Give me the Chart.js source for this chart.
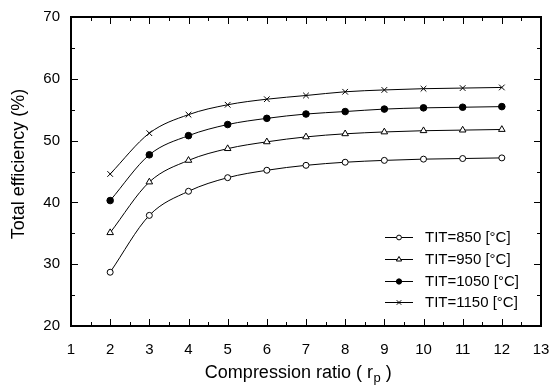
<!DOCTYPE html>
<html>
<head>
<meta charset="utf-8">
<script src="https://cdn.jsdelivr.net/npm/chart.js@4.4.1/dist/chart.umd.min.js"></script>
<style>
  html, body { margin: 0; padding: 0; background: #fff; }
  #wrap { width: 550px; height: 385px; position: relative; }
</style>
</head>
<body>
<div id="wrap"><canvas id="chart"></canvas></div>
<script>
const RATIOS = [2, 3, 4, 5, 6, 7, 8, 9, 10, 11, 12];
const TIT850  = [28.7, 37.9, 41.8, 44.0, 45.2, 46.0, 46.5, 46.8, 47.0, 47.1, 47.2];
const TIT950  = [35.1, 43.3, 46.8, 48.7, 49.8, 50.6, 51.1, 51.4, 51.6, 51.7, 51.8];
const TIT1050 = [40.3, 47.7, 50.8, 52.6, 53.6, 54.3, 54.7, 55.1, 55.3, 55.4, 55.5];
const TIT1150 = [44.6, 51.2, 54.2, 55.8, 56.7, 57.3, 57.9, 58.2, 58.4, 58.5, 58.6];
const LABELS = ["TIT=850 [°C]", "TIT=950 [°C]", "TIT=1050 [°C]", "TIT=1150 [°C]"];

const FONT = "'Liberation Sans', Arial, sans-serif";

function serie(label, values, style, fill, radius) {
  return {
    label,
    data: RATIOS.map((x, i) => ({ x, y: values[i] })),
    borderColor: "#000",
    borderWidth: 1,
    pointStyle: style,
    pointRadius: radius,
    pointBackgroundColor: fill,
    pointBorderColor: "#000",
    pointBorderWidth: 1,
    cubicInterpolationMode: "monotone",
    fill: false
  };
}

const datasets = [
  serie(LABELS[0], TIT850, "circle", "#fff", 3),
  serie(LABELS[1], TIT950, "triangle", "#fff", 3.8),
  serie(LABELS[2], TIT1050, "circle", "#000", 3.3),
  serie(LABELS[3], TIT1150, "crossRot", "#000", 4)
];

// frame drawn as a filled ring, ticks as small filled rects
const frame = {
  id: "frame",
  beforeDatasetsDraw(chart) {
    const ctx = chart.ctx;
    const x = chart.scales.x, y = chart.scales.y;
    const L = Math.round(x.left), R = Math.round(x.right);
    const T = Math.round(y.top), B = Math.round(y.bottom);
    ctx.save();
    ctx.fillStyle = "#000";
    ctx.beginPath();
    ctx.rect(L - 1, T - 1, R - L + 2, B - T + 2);
    ctx.rect(L + 1, T + 1, R - L - 2, B - T - 2);
    ctx.fill("evenodd");
    for (let k = 0; k <= 24; k++) {
      const px = Math.round(x.getPixelForValue(1 + k * 0.5));
      const len = k % 2 === 0 ? 7 : 4;
      ctx.fillRect(px, B - len, 1, len);
      ctx.fillRect(px, T, 1, len);
    }
    for (let k = 0; k <= 10; k++) {
      const py = Math.round(y.getPixelForValue(20 + k * 5));
      const len = k % 2 === 0 ? 7 : 4;
      ctx.fillRect(L, py, len, 1);
      ctx.fillRect(R - len, py, len, 1);
    }
    ctx.restore();
  }
};

const decor = {
  id: "decor",
  afterDraw(chart) {
    const ctx = chart.ctx;
    ctx.save();
    ctx.fillStyle = "#000";

    // y title
    ctx.font = "18px " + FONT;
    ctx.textAlign = "center";
    ctx.textBaseline = "middle";
    ctx.save();
    ctx.translate(19, 164);
    ctx.rotate(-Math.PI / 2);
    ctx.fillText("Total efficiency (%)", 0, 0);
    ctx.restore();

    // x title with subscript
    ctx.textAlign = "left";
    ctx.textBaseline = "alphabetic";
    const p1 = "Compression ratio ( r", sub = "p", p2 = " )";
    ctx.font = "18px " + FONT;
    const w1 = ctx.measureText(p1).width, w3 = ctx.measureText(p2).width;
    ctx.font = "13px " + FONT;
    const w2 = ctx.measureText(sub).width;
    const tx = 298 - (w1 + w2 + w3) / 2;
    const base = 378;
    ctx.font = "18px " + FONT;
    ctx.fillText(p1, tx, base);
    ctx.font = "13px " + FONT;
    ctx.fillText(sub, tx + w1 + 0.5, base + 4);
    ctx.font = "18px " + FONT;
    ctx.fillText(p2, tx + w1 + w2 + 0.5, base);

    // legend inside plot
    const rows = [237, 259, 281, 302];
    ctx.font = "15px " + FONT;
    ctx.textBaseline = "middle";
    chart.data.datasets.forEach((ds, i) => {
      const ly = rows[i] + 0.5;
      ctx.lineWidth = 1;
      ctx.strokeStyle = "#000";
      ctx.beginPath();
      ctx.moveTo(385, ly); ctx.lineTo(413, ly);
      ctx.stroke();
      ctx.fillStyle = ds.pointBackgroundColor;
      Chart.helpers.drawPoint(ctx, {
        pointStyle: ds.pointStyle,
        radius: ds.pointRadius * 0.8,
        rotation: 0,
        borderWidth: 1
      }, 399, ly);
      ctx.fillStyle = "#000";
      ctx.fillText(ds.label, 425, ly);
    });
    ctx.restore();
  }
};

new Chart(document.getElementById("chart"), {
  type: "line",
  data: { datasets },
  options: {
    responsive: true,
    maintainAspectRatio: false,
    animation: false,
    layout: { padding: { top: 17, right: 9, left: 0, bottom: 0 } },
    plugins: { legend: { display: false }, tooltip: { enabled: false } },
    scales: {
      x: {
        type: "linear",
        min: 1, max: 13,
        grid: { display: false },
        border: { display: false },
        ticks: { stepSize: 1, padding: 7, color: "#000", font: { family: FONT, size: 15 } },
        afterFit(s) { s.height = 59; s.paddingLeft = 0; s.paddingRight = 0; }
      },
      y: {
        min: 20, max: 70,
        grid: { display: false },
        border: { display: false },
        ticks: { stepSize: 10, padding: 3, color: "#000", font: { family: FONT, size: 15 } },
        afterFit(s) { s.width = 71; s.paddingTop = 0; s.paddingBottom = 0; }
      }
    }
  },
  plugins: [frame, decor]
});
</script>
</body>
</html>
